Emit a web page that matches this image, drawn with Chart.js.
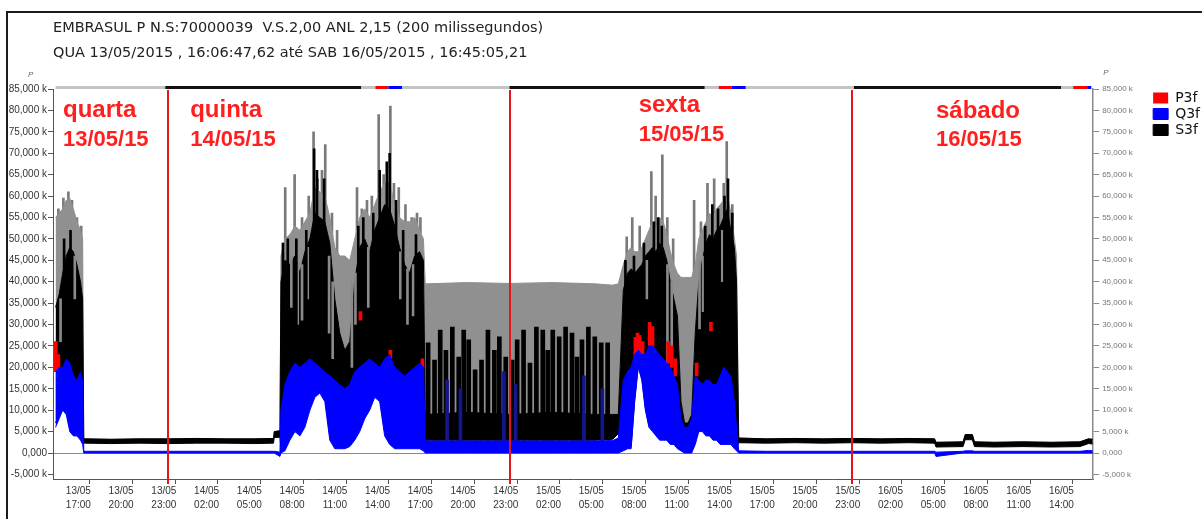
<!DOCTYPE html>
<html lang="pt-BR">
<head>
<meta charset="UTF-8">
<title>EMBRASUL - P3f / Q3f / S3f</title>
<script src="https://cdn.jsdelivr.net/npm/chart.js"></script>
<style>
  html, body { margin: 0; padding: 0; background: #fff; }
  canvas { display: block; }
</style>
</head>
<body>
<canvas id="chart" width="1202" height="519"></canvas>
<script>
// horas contadas a partir de 13/05/2015 00:00, valores em milhares (k)
const titleLines = [
  'EMBRASUL P N.S:70000039  V.S.2,00 ANL 2,15 (200 milissegundos)',
  'QUA 13/05/2015 , 16:06:47,62 até SAB 16/05/2015 , 16:45:05,21'
];

const times = [
  16.1, 16.35, 16.6, 16.85, 17.1, 17.35, 17.6, 17.85, 18.0, 18.08,
  18.2, 20, 22, 24, 26, 28, 30, 31.4, 31.45, 31.85,
  31.92, 32.2, 32.55, 32.9, 33.25, 33.6, 33.95, 34.3, 34.65, 35.0, 35.35, 35.7, 36.05, 36.4, 36.75,
  37.1, 37.45, 37.8, 38.15, 38.5, 38.85, 39.2, 39.55, 39.9, 40.25, 40.6, 40.95, 41.3, 41.65, 41.92,
  42.05, 45, 48, 51, 54, 55.2, 55.6,
  55.95, 56.25, 56.5, 56.75, 57.0, 57.25, 57.5, 57.75, 58.0, 58.25, 58.5, 58.75, 59.0, 59.25, 59.5, 59.75,
  60.0, 60.25, 60.5, 60.75, 61.0, 61.25, 61.5, 61.75, 62.0, 62.25, 62.5, 62.75, 63.0, 63.25, 63.5, 63.75, 63.9,
  64.05, 66, 68, 70, 72, 74, 76, 77.8, 77.9, 79.8, 79.95, 80.45, 80.6, 82, 84, 86, 88.0, 88.6, 88.9
];

// S3f: topo da faixa densa (preto), base e topo do envelope cinza
const s3fCore = [
  34, 37, 42, 46, 48, 47, 44, 40, 36, 3.4,
  3.3, 3.2, 3.3, 3.3, 3.4, 3.3, 3.3, 3.4, 5.0, 5.2,
  40, 45, 44, 46, 42, 47, 50, 56, 55, 54, 49, 36, 28, 24, 26,
  40, 48, 50, 47, 52, 55, 58, 57, 53, 48, 44, 42, 46, 47, 45,
  9, 9.5, 9, 9.5, 9, 9, 9,
  38, 42, 43, 42, 43, 44, 46, 47, 48, 47, 49, 48, 45, 40, 36, 32,
  12, 7, 7, 9, 28, 40, 45, 49, 51, 50, 52, 53, 55, 57, 52, 48, 40,
  3.5, 3.3, 3.4, 3.3, 3.4, 3.3, 3.4, 3.3, 2.5, 2.6, 4.3, 4.3, 2.6, 2.5, 2.6, 2.5, 2.6, 3.3, 3.2
];
const s3fLow = [
  7, 9, 11, 10, 6, 5, 5, 4, 3, 2.3,
  2.3, 2.2, 2.3, 2.2, 2.3, 2.3, 2.2, 2.3, 3.6, 3.7,
  1, 1.5, 4, 6, 5, 7, 11, 14, 15, 13, 4, 2, 2, 2, 2.5,
  4, 6, 9, 11, 14, 13, 5, 3, 2, 2, 2, 2, 2, 2, 1.5,
  3.0, 3.0, 3.0, 3.0, 3.0, 3.2, 4.5,
  1, 1.5, 1.5, 12.5, 20.5, 17.5, 10.5, 6.5, 5.5, 4.5, 3.5, 3.5, 3.5, 2.5, 2.5, 1.5,
  1, 0.5, 0.5, 0.5, 2.5, 5.5, 5.5, 4.5, 4.5, 3.5, 3.5, 2.5, 2.5, 2.5, 2.5, 1.5, 1,
  2.4, 2.3, 2.4, 2.3, 2.4, 2.3, 2.4, 2.3, 1.4, 1.5, 3.1, 3.1, 1.5, 1.4, 1.5, 1.4, 1.5, 2.2, 2.1
];
const s3fBand = [
  55, 56, 57, 59, 59.5, 57, 54, 52, 50, 3.4,
  3.3, 3.2, 3.3, 3.3, 3.4, 3.3, 3.3, 3.4, 5.0, 5.2,
  46, 50, 51, 53, 52, 54, 56, 62, 61, 60, 55, 48, 46, 46, 45,
  50, 55, 57, 55, 58, 61, 63, 63, 58, 55, 54, 54, 55, 52, 50,
  39.5, 39.8, 39.6, 39.8, 39.5, 39.2, 39.5,
  44, 47, 48, 47, 47, 48, 50, 52, 54, 52, 55, 54, 51, 47, 44, 42,
  41, 41, 41, 41, 44, 50, 52, 54, 56, 55, 57, 58, 59, 60, 56, 50, 46,
  3.5, 3.3, 3.4, 3.3, 3.4, 3.3, 3.4, 3.3, 2.5, 2.6, 4.3, 4.3, 2.6, 2.5, 2.6, 2.5, 2.6, 3.3, 3.2
];

// Q3f: faixa azul
const q3fHigh = [
  19, 20, 20, 22, 21, 18, 17, 19, 17, 0.4,
  0.4, 0.4, 0.4, 0.4, 0.4, 0.4, 0.4, 0.4, 0.4, 0.2,
  10, 16, 19, 21, 20, 21, 22, 21, 20, 19, 18, 17, 16, 15, 16,
  19, 20, 21, 22, 21, 20, 22, 23, 20, 19, 18, 19, 20, 21, 20,
  2.8, 2.8, 2.8, 2.8, 2.8, 2.9, 3.5,
  17, 19, 20, 23, 24, 23, 23, 25, 25, 24, 23, 22, 21, 20, 18, 16,
  8, 6, 6, 8, 18, 17, 16, 17, 17, 16, 16, 18, 20, 19, 18, 12, 6,
  0.5, 0.4, 0.4, 0.4, 0.4, 0.4, 0.4, 0.4, 0.2, 0.4, 0.5, 0.5, 0.4, 0.4, 0.4, 0.4, 0.4, 0.6, 0.5
];
const q3fLow = [
  6, 8, 10, 9, 5, 4, 4, 3, 2, 0,
  0, 0, 0, 0, 0, 0, 0, 0, 0, -0.8,
  0, 0.5, 3, 5, 4, 6, 10, 13, 14, 12, 3, 1, 1, 1, 1.5,
  3, 5, 8, 10, 13, 12, 4, 2, 1, 1, 1, 1, 1, 1, 0.5,
  0, 0, 0, 0, 0, 0, 0,
  0.5, 1, 1, 12, 20, 17, 10, 6, 5, 4, 3, 3, 3, 2, 2, 1,
  0.5, 0, 0, 0, 2, 5, 5, 4, 4, 3, 3, 2, 2, 2, 2, 1, 0.5,
  0, 0, 0, 0, 0, 0, 0, 0, -0.8, 0, 0, 0, 0, 0, 0, 0, 0, 0, 0
];

// picos finos de S3f (cinza)
const peakTimes = [
  16.3, 16.65, 17.0, 17.25, 17.6, 17.9,
  32.22, 32.88, 33.4, 33.87, 34.21, 34.5, 34.8, 35.03, 35.5, 35.86, 37.26, 37.6, 37.96, 38.3,
  38.78, 39.13, 39.6, 39.85, 40.19, 40.66, 41.1, 41.47, 41.71,
  56.19, 56.58, 57.1, 57.92, 58.22, 58.69, 59.04, 59.45, 60.92, 61.4, 61.86, 62.33, 62.68, 63.0, 63.21, 63.6
];
const peakTops = [
  57, 59.5, 61, 59, 55, 53,
  62, 65, 55, 60, 75, 64, 66, 72, 56, 52, 62, 57, 59, 60,
  79, 65, 81, 63, 62, 58, 55, 56, 55,
  50.5, 55, 53, 65.7, 60, 69.6, 55, 50, 59, 54, 63, 64, 57.5, 63, 72.7, 58
];
const peakFloor = 25;

// colunas pretas que sobem acima da faixa densa
const darkTimes = [
  16.7, 17.15,
  32.06, 32.4, 33.0, 33.7, 34.25, 34.45, 34.95, 37.35, 37.7, 38.4, 38.85, 39.35, 39.55, 40.0, 40.5, 41.4,
  56.1, 56.7, 57.4, 58.1, 58.4, 58.65, 61.7, 62.2, 62.6, 63.05, 63.3, 63.6
];
const darkTops = [
  50, 52,
  49, 50, 50, 52, 71, 66, 64, 53, 55, 56, 66, 68, 70, 59, 52, 51,
  45, 46, 49, 54, 55, 53, 53, 58, 57, 60, 64, 56
];
const darkFloor = 20;

// colunas cinza dentro da faixa preta
const gapTimes = [16.45, 17.45, 32.65, 33.1, 33.4, 33.8, 35.3, 35.55, 36.9, 37.15, 38.05, 40.3, 40.8, 41.2, 57.6, 59.05, 59.35, 61.3, 61.55, 62.9];
const gapLow = [26, 36, 34, 30, 31, 36, 28, 22, 20, 30, 34, 36, 30, 32, 36, 21, 24, 29, 33, 40];
const gapHigh = [36, 46, 46, 44, 44, 48, 46, 40, 40, 42, 48, 47, 43, 44, 45, 44, 40, 45, 46, 52];

// pulsos de S3f na madrugada de 14 para 15/05
const pulseTimes = [
  42.25, 42.7, 43.1, 43.5, 43.95, 44.4, 44.75, 45.1, 45.55, 46.0, 46.45, 46.9, 47.25, 47.7, 48.15, 48.5,
  48.95, 49.4, 49.85, 50.3, 50.65, 51.0, 51.45, 51.9, 52.35, 52.7, 53.05, 53.5, 53.95, 54.4, 54.85
];
const pulseTops = [
  25.7, 21.7, 28.7, 24, 29.4, 22.4, 28.7, 26.4, 19.4, 21.7, 28.7, 24, 27.1, 22.4, 21.7, 26.4,
  28.7, 21, 29.4, 28.7, 24, 28.7, 27.1, 29.4, 28, 22.4, 26.4, 29.4, 27.1, 25.7, 25.7
];
const pulseFloor = 3;

// pulsos de Q3f no mesmo periodo
const qPulseTimes = [43.58, 44.52, 47.57, 48.39, 53.19, 54.48];
const qPulseTops = [17, 15, 19, 16, 18, 15];

// P3f aparece só onde passa da faixa azul
const p3fTimes = [16.12, 16.3, 37.5, 39.6, 41.85, 56.8, 56.95, 57.1, 57.3, 57.8, 58.0, 59.1, 59.35, 59.6, 61.1, 62.1];
const p3fLow = [19, 19, 31, 22, 20, 22, 23, 23, 22.5, 25, 24.5, 21, 20, 18, 18, 28.5];
const p3fHigh = [26, 23, 33, 24, 22, 27, 28, 27.5, 26, 30.5, 29.5, 26, 25, 22, 21, 30.5];

// eixos
const xRange = [15.92, 88.93];
const xTickHours = [17, 20, 23, 26, 29, 32, 35, 38, 41, 44, 47, 50, 53, 56, 59, 62, 65, 68, 71, 74, 77, 80, 83, 86];
const xTickDates = ['13/05', '13/05', '13/05', '14/05', '14/05', '14/05', '14/05', '14/05', '14/05', '14/05', '14/05', '15/05',
  '15/05', '15/05', '15/05', '15/05', '15/05', '15/05', '15/05', '16/05', '16/05', '16/05', '16/05', '16/05'];
const xTickTimes = ['17:00', '20:00', '23:00', '02:00', '05:00', '08:00', '11:00', '14:00', '17:00', '20:00', '23:00', '02:00',
  '05:00', '08:00', '11:00', '14:00', '17:00', '20:00', '23:00', '02:00', '05:00', '08:00', '11:00', '14:00'];
const yRange = [-6.07, 85];
const yTicks = [-5, 0, 5, 10, 15, 20, 25, 30, 35, 40, 45, 50, 55, 60, 65, 70, 75, 80, 85];

// marcações dos dias
const dayBreaks = [24, 48, 72];
const dayNames = ['quarta', 'quinta', 'sexta', 'sábado'];
const dayDates = ['13/05/15', '14/05/15', '15/05/15', '16/05/15'];
const dayLabelHour = [16.62, 25.55, 57.03, 77.9];
const dayNameValue = [78.5, 78.5, 79.6, 78.2];
const dayDateValue = [71.7, 71.7, 72.9, 71.7];

// faixa de registro no topo do gráfico
const stripFrom = [16.1, 23.8, 37.56, 38.55, 39.46, 40.44, 47.96, 61.67, 62.65, 63.57, 64.55, 72.14, 86.68, 87.53, 88.51];
const stripTo = [23.8, 37.56, 38.55, 39.46, 40.44, 47.96, 61.67, 62.65, 63.57, 64.55, 72.14, 86.68, 87.53, 88.51, 88.8];
const stripKind = ['off', 'on', 'off', 'p', 'q', 'off', 'on', 'off', 'p', 'q', 'off', 'on', 'off', 'p', 'q'];

const legendNames = ['P3f', 'Q3f', 'S3f'];

const RED = '#ff0000';
const BLUE = '#0000ff';
const GREY = '#909090';
const stripColors = { off: '#c4c4c4', on: '#111111', p: RED, q: BLUE };

const pts = arr => times.map((t, i) => ({ x: t, y: arr[i] }));
const floatBars = (ts, lo, hi) => ts.map((t, i) => ({ x: t, y: [Array.isArray(lo) ? lo[i] : lo, hi[i]] }));
const fmtK = v => v === 0 ? '0,000' : v + ',000 k';

const headerPlugin = {
  id: 'header',
  beforeDraw(chart) {
    const { ctx, chartArea, scales: { x } } = chart;
    ctx.save();
    ctx.fillStyle = '#fff';
    ctx.fillRect(0, 0, chart.width, chart.height);

    ctx.strokeStyle = '#1c1c1c';
    ctx.lineWidth = 2;
    ctx.beginPath();
    ctx.moveTo(7, chart.height);
    ctx.lineTo(7, 12);
    ctx.lineTo(chart.width, 12);
    ctx.stroke();

    ctx.fillStyle = '#222';
    ctx.font = '14.5px "DejaVu Sans", sans-serif';
    ctx.textBaseline = 'middle';
    ctx.fillText(titleLines[0], 53, 28);
    ctx.fillText(titleLines[1], 53, 53);

    ctx.fillStyle = '#666';
    ctx.font = 'italic 8px "Liberation Sans", Arial, sans-serif';
    ctx.fillText('P', 28, 75);
    ctx.fillText('P', chartArea.right + 10, 73);

    ctx.lineWidth = 3;
    stripFrom.forEach((from, i) => {
      ctx.strokeStyle = stripColors[stripKind[i]];
      ctx.beginPath();
      ctx.moveTo(x.getPixelForValue(from), chartArea.top - 1.5);
      ctx.lineTo(x.getPixelForValue(stripTo[i]), chartArea.top - 1.5);
      ctx.stroke();
    });
    ctx.restore();
  }
};

const marksPlugin = {
  id: 'marks',
  afterDatasetsDraw(chart) {
    const { ctx, chartArea, scales: { x, y } } = chart;
    ctx.save();
    ctx.strokeStyle = '#e3161b';
    ctx.lineWidth = 2;
    dayBreaks.forEach(h => {
      const px = Math.round(x.getPixelForValue(h));
      ctx.beginPath();
      ctx.moveTo(px, chartArea.top + 1);
      ctx.lineTo(px, chartArea.bottom + 5);
      ctx.stroke();
    });
    ctx.fillStyle = '#ff1f1f';
    ctx.textBaseline = 'alphabetic';
    dayNames.forEach((name, i) => {
      const px = x.getPixelForValue(dayLabelHour[i]);
      ctx.font = 'bold 24px "Liberation Sans", Arial, sans-serif';
      ctx.fillText(name, px, y.getPixelForValue(dayNameValue[i]));
      ctx.font = 'bold 22px "Liberation Sans", Arial, sans-serif';
      ctx.fillText(dayDates[i], px, y.getPixelForValue(dayDateValue[i]));
    });
    ctx.restore();
  }
};

const thinBar = { type: 'bar', grouped: false, borderWidth: 0 };

new Chart(document.getElementById('chart'), {
  type: 'line',
  data: {
    datasets: [
      { label: 'Q3f', data: pts(q3fHigh), borderColor: BLUE, backgroundColor: BLUE, borderWidth: 1, fill: '+1', order: 1 },
      { label: 'Q3f min', data: pts(q3fLow), borderColor: BLUE, backgroundColor: BLUE, borderWidth: 1, fill: false, order: 2 },
      { ...thinBar, label: 'Q3f pulsos', data: floatBars(qPulseTimes, 0, qPulseTops), backgroundColor: '#16168c', barThickness: 3, order: 3 },
      { ...thinBar, label: 'P3f', data: floatBars(p3fTimes, p3fLow, p3fHigh), backgroundColor: RED, borderColor: RED, barThickness: 3, order: 4 },
      { label: 'S3f', data: pts(s3fCore), borderColor: '#000', backgroundColor: '#000', borderWidth: 1, fill: '+1', order: 6 },
      { label: 'S3f min', data: pts(s3fLow), borderColor: '#000', backgroundColor: '#000', borderWidth: 1, fill: false, order: 8 },
      { ...thinBar, label: 'S3f pulsos', data: floatBars(pulseTimes, pulseFloor, pulseTops), backgroundColor: '#000', barThickness: 4, order: 7 },
      { label: 'S3f faixa', data: pts(s3fBand), borderColor: GREY, backgroundColor: GREY, borderWidth: 1, fill: 4, order: 9 },
      { ...thinBar, label: 'S3f pico', data: floatBars(peakTimes, peakFloor, peakTops), backgroundColor: '#7a7a7a', barThickness: 2, order: 10 },
      { ...thinBar, label: 'S3f colunas', data: floatBars(darkTimes, darkFloor, darkTops), backgroundColor: '#000', barThickness: 2, order: 5 },
      { ...thinBar, label: 'S3f vales', data: floatBars(gapTimes, gapLow, gapHigh), backgroundColor: '#8a8a8a', barThickness: 2, order: 5 }
    ]
  },
  options: {
    responsive: false,
    devicePixelRatio: 1,
    animation: false,
    events: [],
    elements: { point: { radius: 0 }, line: { tension: 0 } },
    layout: { padding: { top: 89, right: -8, bottom: 0, left: 0 } },
    scales: {
      x: {
        type: 'linear', min: xRange[0], max: xRange[1], offset: false,
        afterBuildTicks: s => { s.ticks = xTickHours.map(v => ({ value: v })); },
        afterFit: s => { s.height = 40; },
        ticks: {
          autoSkip: false, maxRotation: 0, labelOffset: 10, padding: 0, color: '#333',
          font: { family: '"Liberation Sans", Arial, sans-serif', size: 10, lineHeight: 1.4 },
          callback: (v, i) => [xTickDates[i], xTickTimes[i]]
        },
        grid: { drawOnChartArea: false, tickLength: 5, tickColor: '#555' },
        border: { color: '#555' }
      },
      y: {
        position: 'left', min: yRange[0], max: yRange[1],
        afterBuildTicks: s => { s.ticks = yTicks.map(v => ({ value: v })); },
        afterFit: s => { s.width = 53; },
        ticks: { color: '#333', padding: 1, font: { family: '"Liberation Sans", Arial, sans-serif', size: 10 }, callback: fmtK },
        grid: {
          color: c => (c.tick && c.tick.value === 0) ? '#8a8a8a' : 'rgba(0,0,0,0)',
          tickColor: '#555', tickLength: 5
        },
        border: { color: '#555' }
      },
      y2: {
        position: 'right', min: yRange[0], max: yRange[1],
        afterBuildTicks: s => { s.ticks = yTicks.map(v => ({ value: v })); },
        afterFit: s => { s.width = 58; },
        ticks: { color: '#777', padding: 3, font: { family: '"Liberation Sans", Arial, sans-serif', size: 8 }, callback: fmtK },
        grid: { drawOnChartArea: false, tickColor: '#8a8a8a', tickLength: 6 },
        border: { color: '#8a8a8a', width: 1.5 }
      }
    },
    plugins: {
      tooltip: { enabled: false },
      title: { display: false },
      legend: {
        position: 'right', align: 'start', fullSize: false, onClick: null,
        labels: {
          boxWidth: 15, boxHeight: 11, padding: 2, color: '#111',
          font: { family: '"DejaVu Sans", sans-serif', size: 14 },
          filter: item => legendNames.includes(item.text),
          sort: (a, b) => a.text.localeCompare(b.text)
        }
      }
    }
  },
  plugins: [headerPlugin, marksPlugin]
});
</script>
</body>
</html>
